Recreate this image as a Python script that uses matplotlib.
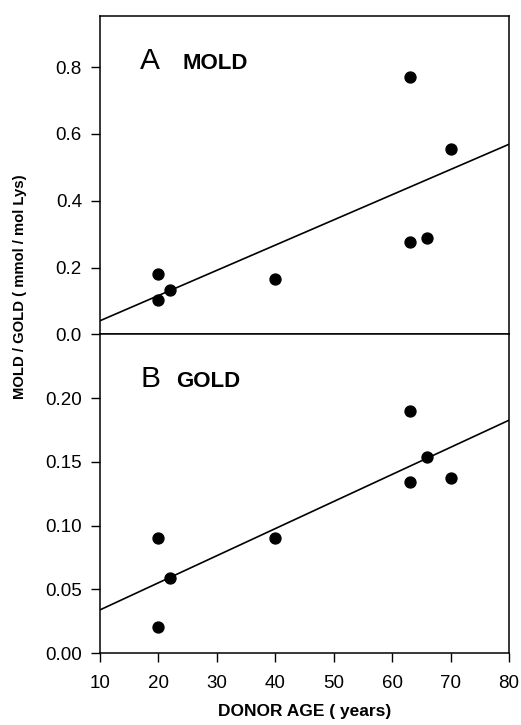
import numpy as np
import matplotlib
matplotlib.use("Agg")
import matplotlib.pyplot as plt
from matplotlib.ticker import FormatStrFormatter

plt.rcParams['font.family'] = ['Liberation Sans', 'DejaVu Sans']

age = [20, 20, 22, 40, 63, 63, 66, 70]
mold = [0.182, 0.102, 0.132, 0.167, 0.769, 0.277, 0.288, 0.554]
gold = [0.0905, 0.0203, 0.0587, 0.0905, 0.190, 0.134, 0.1538, 0.137]

x_ticks = [10, 20, 30, 40, 50, 60, 70, 80]
mold_ticks = [0.0, 0.2, 0.4, 0.6, 0.8]
gold_ticks = [0.00, 0.05, 0.10, 0.15, 0.20]

fig = plt.figure(figsize=(5.21, 7.25), dpi=100)
L, R, T, B = 0.192, 0.977, 0.978, 0.0993
h = (T - B) / 2
axA = fig.add_axes([L, B + h, R - L, h])
axB = fig.add_axes([L, B, R - L, h], sharex=axA)

def style(ax):
    for s in ax.spines.values():
        s.set_linewidth(1.1)
    ax.tick_params(direction='out', length=6.5, width=1.0, labelsize=13.5,
                   right=False, top=False)
    ax.tick_params(axis='y', pad=6.5)
    ax.tick_params(axis='x', pad=9)

for ax, y, ticks, ylim, fmt in [(axA, mold, mold_ticks, 0.953, '%.1f'),
                                 (axB, gold, gold_ticks, 0.25, '%.2f')]:
    style(ax)
    ax.scatter(age, y, s=62, color='black', zorder=3)
    k, b0 = np.polyfit(age, y, 1)
    xs = np.array([10, 80])
    ax.plot(xs, k * xs + b0, color='black', lw=1.2)
    ax.set_ylim(0, ylim)
    ax.set_yticks(ticks)
    ax.yaxis.set_major_formatter(FormatStrFormatter(fmt))

axA.set_xlim(10, 80)
axB.set_xticks(x_ticks)
axA.tick_params(axis='x', bottom=False, labelbottom=False)

axA.text(16.8, 0.795, 'A', fontsize=21.5, ha='left', va='baseline')
axA.text(24.2, 0.795, 'MOLD', fontsize=16, fontweight='bold', ha='left', va='baseline')
axB.text(16.9, 0.2087, 'B', fontsize=21.5, ha='left', va='baseline')
axB.text(23.1, 0.2087, 'GOLD', fontsize=16, fontweight='bold', ha='left', va='baseline')

axB.set_xlabel('DONOR AGE ( years)', fontsize=12.5, fontweight='bold', labelpad=9)
fig.text(0.038, 1 - 287 / 725, 'MOLD / GOLD ( mmol / mol Lys)', rotation=90,
         fontsize=10.7, fontweight='bold', ha='center', va='center')

fig.savefig('out.png', dpi=100)
